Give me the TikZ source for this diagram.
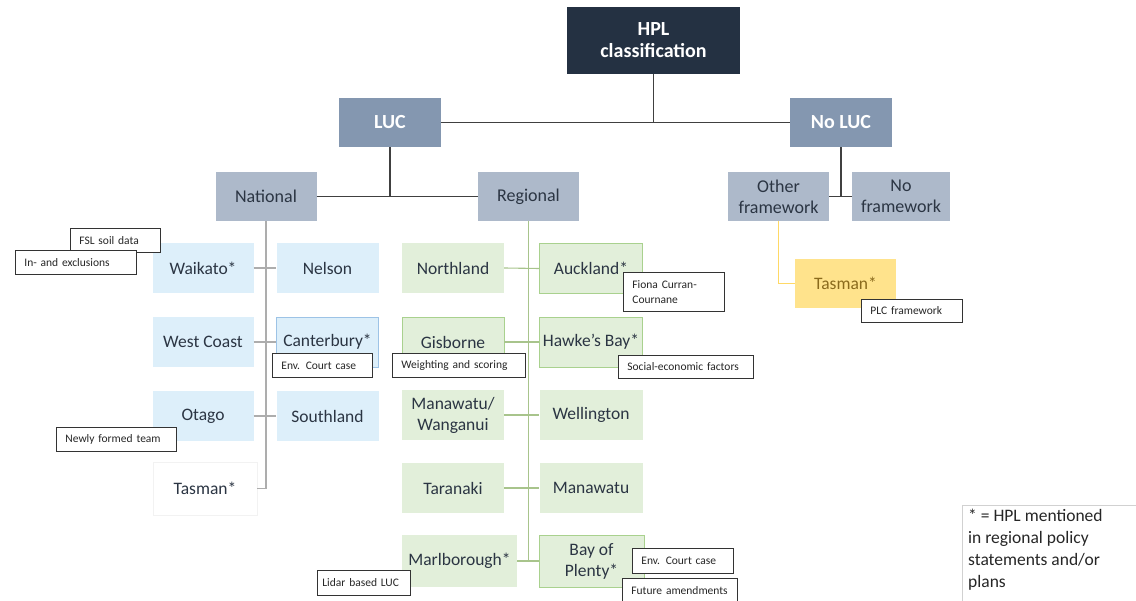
\documentclass[tikz,border=0pt]{standalone}
\usepackage{fontspec}
\setmainfont{Carlito}

\definecolor{hpldark}{HTML}{243142}
\definecolor{lucblue}{HTML}{8497B0}
\definecolor{subgrey}{HTML}{ADB9CA}
\definecolor{natblue}{HTML}{DDEFFA}
\definecolor{natedge}{HTML}{9DC3E6}
\definecolor{reggreen}{HTML}{E2EFDA}
\definecolor{regedge}{HTML}{A9D18E}
\definecolor{regline}{HTML}{A8C48C}
\definecolor{tasyellow}{HTML}{FFE38C}
\definecolor{tasline}{HTML}{FFD966}
\definecolor{tastext}{HTML}{8A6A1C}
\definecolor{boxtext}{HTML}{2B3543}
\definecolor{linegrey}{HTML}{ADADAD}

\begin{document}
\begin{tikzpicture}[x=1pt,y=-1pt,
 top/.style={fill=hpldark,text=white,font=\fontsize{20}{22}\selectfont\bfseries,align=center,minimum width=173pt,minimum height=67pt,inner sep=0pt},
 level/.style={fill=lucblue,text=white,font=\fontsize{20}{22}\selectfont\bfseries,minimum width=102pt,minimum height=49pt,inner sep=0pt},
 sub/.style={fill=subgrey,text=boxtext,font=\fontsize{18}{21}\selectfont,align=center,minimum width=101pt,minimum height=49pt,inner sep=0pt},
 nat/.style={fill=natblue,text=boxtext,font=\fontsize{17.5}{21}\selectfont,align=center,minimum width=101pt,minimum height=50pt,inner sep=0pt},
 reg/.style={fill=reggreen,text=boxtext,font=\fontsize{17.5}{21}\selectfont,align=center,minimum width=103pt,minimum height=50pt,inner sep=0pt},
 note/.style={draw=black!80,fill=white,line width=0.8pt,font=\fontsize{11.5}{15}\selectfont,text=black!85,align=left,anchor=north west,inner xsep=9pt,inner ysep=0pt,minimum height=24pt},
 stem/.style={draw=black!75,line width=1.4pt},
 twig/.style={draw=linegrey,line width=1.1pt}]

\useasboundingbox (0,0) rectangle (1136,601);
\clip (0,0) rectangle (1136,601);

% top levels
\node[top] (hpl) at (653.5,40.5) {HPL\\classification};
\node[level] (luc) at (390,122.5) {LUC};
\node[level] (noluc) at (841,122.5) {No LUC};
\node[sub] (national) at (266,196.5) {National};
\node[sub] (regional) at (528.5,196.5) {Regional};
\node[sub] (other) at (778.5,196.5) {Other\\framework};
\node[sub,minimum width=98pt] (nofw) at (901,196.5) {No\\framework};

% national
\node[nat] (waikato) at (203,268) {Waikato*};
\node[nat,minimum width=102pt] (nelson) at (327.5,268) {Nelson};
\node[nat] (westcoast) at (203,342) {West Coast};
\node[nat,minimum width=102pt,draw=natedge] (canterbury) at (327.5,342) {Canterbury*};
\node[nat] (otago) at (203,416) {Otago};
\node[nat,minimum width=102pt] (southland) at (327.5,416) {Southland};
\node[nat,fill=white,draw=black!5,minimum width=104pt,minimum height=53pt] (tasmannat) at (205,488.5) {Tasman*};

% regional
\node[reg,minimum width=102pt] (northland) at (453,268) {Northland};
\node[reg,draw=regedge] (auckland) at (591,268.5) {Auckland*};
\node[reg,minimum width=102pt,draw=regedge] (gisborne) at (453,342) {Gisborne};
\node[reg,draw=regedge] (hawkes) at (591,342) {Hawke’s Bay*};
\node[reg,minimum width=102pt] (manwang) at (453,415) {Manawatu/\\Wanganui};
\node[reg] (wellington) at (591,415) {Wellington};
\node[reg,minimum width=102pt] (taranaki) at (453,488) {Taranaki};
\node[reg] (manawatu) at (591,488) {Manawatu};
\node[reg,minimum width=115pt,minimum height=52pt] (marlborough) at (459.5,561) {Marlborough*};
\node[reg,draw=regedge,minimum width=105pt,minimum height=52pt] (bop) at (591.5,561) {Bay of\\Plenty*};

% no LUC
\node[fill=tasyellow,text=tastext,font=\fontsize{17.5}{21}\selectfont,minimum width=101pt,minimum height=49pt,inner sep=0pt] (tasmanyel) at (845.5,283.5) {Tasman*};

% connectors
\draw[stem] (hpl.south) -- (hpl.south |- luc.east);
\draw[stem] (luc.east) -- (noluc.west);
\draw[stem] (luc.south) -- (luc.south |- national.east);
\draw[stem] (national.east) -- (regional.west);
\draw[stem] (noluc.south) -- (noluc.south |- other.east);
\draw[stem] (other.east) -- (nofw.west);

\draw[twig] (national.south) |- (tasmannat.east);
\draw[twig] (waikato.east) -- (nelson.west);
\draw[twig] (westcoast.east) -- (canterbury.west);
\draw[twig] (otago.east) -- (southland.west);

\draw[twig,draw=regline] (regional.south) -- (regional.south |- marlborough.east);
\draw[twig,draw=regline] (northland.east) -- (auckland.west);
\draw[twig,draw=regline] (gisborne.east) -- (hawkes.west);
\draw[twig,draw=regline] (manwang.east) -- (wellington.west);
\draw[twig,draw=regline] (taranaki.east) -- (manawatu.west);
\draw[twig,draw=regline] (marlborough.east) -- (bop.west);

\draw[twig,draw=tasline] (other.south) |- (tasmanyel.west);

% notes
\node[note,text width=72pt] (fsl) at (70,228) {FSL soil data};
\node[note,text width=103pt] (inex) at (15,250) {In- and exclusions};
\node[note,text width=82pt] (envcant) at (272,353) {Env. Court case};
\node[note,text width=102pt] (newteam) at (56,427) {Newly formed team};
\node[note,text width=83pt,inner xsep=5pt,minimum height=25pt] (lidar) at (317,570) {Lidar based LUC};
\node[note,text width=83pt,minimum height=39pt] (fiona) at (623,272) {Fiona Curran-\\Cournane};
\node[note,text width=115pt] (weighting) at (392,353) {Weighting and scoring};
\node[note,text width=117pt,minimum height=23pt] (social) at (618,355) {Social-economic factors};
\node[note,text width=83pt,minimum height=25pt] (envbop) at (632,548) {Env. Court case};
\node[note,text width=97pt,minimum height=25pt] (future) at (622,578) {Future amendments};
\node[note,text width=83pt,minimum height=23pt] (plc) at (861,299) {PLC framework};

% legend
\node[anchor=north west,align=left,text=black!85,font=\fontsize{17.5}{22}\selectfont,inner sep=0pt] (legend) at (968,509) {* = HPL mentioned\\in regional policy\\statements and/or\\plans};
\draw[draw=black!18,line width=0.8pt] (legend.north west) ++(-6,-4) rectangle ++(220,130);
\end{tikzpicture}
\end{document}
